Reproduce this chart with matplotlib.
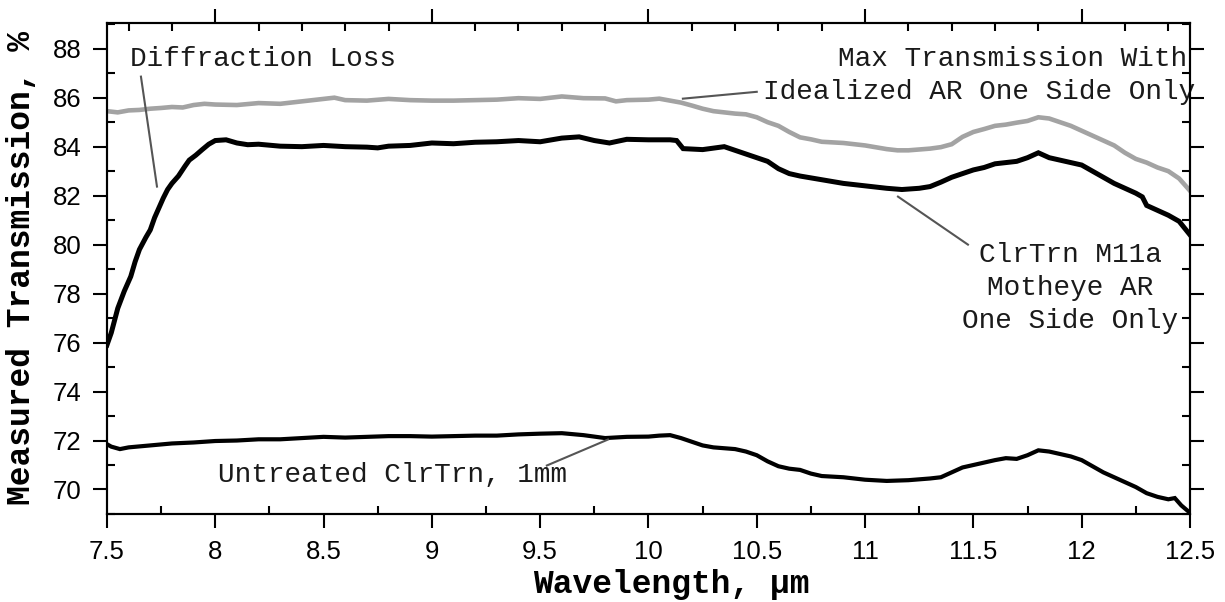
import numpy as np
import matplotlib
matplotlib.use('Agg')
import matplotlib.pyplot as plt
from matplotlib.ticker import MultipleLocator

# max transmission, idealized AR on one side (grey)
wl_max = [7.50, 7.55, 7.60, 7.65, 7.70, 7.75, 7.80, 7.85, 7.90, 7.95, 8.00, 8.10, 8.20, 8.30,
          8.40, 8.50, 8.55, 8.60, 8.70, 8.80, 8.90, 9.00, 9.10, 9.20, 9.30, 9.40, 9.50, 9.60,
          9.70, 9.80, 9.85, 9.90, 10.00, 10.05, 10.10, 10.15, 10.20, 10.25, 10.30, 10.40, 10.45,
          10.50, 10.55, 10.60, 10.65, 10.70, 10.75, 10.80, 10.90, 11.00, 11.10, 11.15, 11.20,
          11.30, 11.35, 11.40, 11.45, 11.50, 11.55, 11.60, 11.65, 11.70, 11.75, 11.80, 11.85,
          11.90, 11.95, 12.00, 12.05, 12.10, 12.15, 12.20, 12.25, 12.30, 12.35, 12.40, 12.45, 12.50]
t_max = [85.45, 85.40, 85.48, 85.50, 85.55, 85.58, 85.62, 85.60, 85.70, 85.75, 85.72, 85.70, 85.78, 85.75,
         85.85, 85.95, 86.00, 85.90, 85.88, 85.95, 85.90, 85.88, 85.88, 85.90, 85.92, 85.98, 85.95, 86.05,
         85.98, 85.97, 85.85, 85.90, 85.92, 85.96, 85.88, 85.80, 85.68, 85.55, 85.45, 85.35, 85.32,
         85.20, 85.00, 84.85, 84.60, 84.38, 84.30, 84.20, 84.15, 84.05, 83.90, 83.85, 83.85,
         83.92, 83.98, 84.10, 84.40, 84.60, 84.72, 84.85, 84.90, 84.98, 85.05, 85.20, 85.15,
         85.00, 84.85, 84.65, 84.45, 84.25, 84.05, 83.75, 83.50, 83.35, 83.15, 83.00, 82.70, 82.20]

# ClrTrn M11a, motheye AR on one side
wl_m11a = [7.50, 7.52, 7.55, 7.58, 7.61, 7.63, 7.65, 7.68, 7.70, 7.72, 7.74, 7.76, 7.78, 7.80,
           7.83, 7.86, 7.88, 7.91, 7.94, 7.97, 8.00, 8.05, 8.10, 8.15, 8.20, 8.30, 8.40, 8.50,
           8.60, 8.70, 8.75, 8.80, 8.90, 9.00, 9.10, 9.20, 9.30, 9.40, 9.50, 9.60, 9.68, 9.75,
           9.82, 9.90, 10.00, 10.10, 10.13, 10.16, 10.25, 10.35, 10.40, 10.45, 10.50, 10.55,
           10.60, 10.65, 10.70, 10.80, 10.90, 11.00, 11.10, 11.17, 11.25, 11.30, 11.35, 11.40,
           11.45, 11.50, 11.55, 11.60, 11.65, 11.70, 11.75, 11.80, 11.85, 11.90, 11.95, 12.00,
           12.05, 12.10, 12.15, 12.20, 12.25, 12.28, 12.30, 12.35, 12.40, 12.45, 12.50]
t_m11a = [75.90, 76.40, 77.40, 78.10, 78.70, 79.30, 79.80, 80.30, 80.60, 81.10, 81.50, 81.90, 82.25, 82.50,
          82.80, 83.20, 83.45, 83.65, 83.88, 84.10, 84.25, 84.28, 84.15, 84.08, 84.10, 84.02, 84.00, 84.05,
          84.00, 83.98, 83.95, 84.02, 84.05, 84.15, 84.12, 84.18, 84.20, 84.25, 84.20, 84.35, 84.40, 84.25,
          84.15, 84.30, 84.28, 84.28, 84.25, 83.92, 83.88, 84.00, 83.85, 83.70, 83.55, 83.40,
          83.10, 82.90, 82.80, 82.65, 82.50, 82.40, 82.30, 82.25, 82.30, 82.37, 82.55, 82.75,
          82.90, 83.05, 83.15, 83.30, 83.35, 83.40, 83.55, 83.75, 83.55, 83.45, 83.35, 83.25,
          83.00, 82.75, 82.50, 82.30, 82.10, 81.95, 81.60, 81.40, 81.20, 80.95, 80.40]

# untreated ClrTrn, 1 mm
wl_raw = [7.50, 7.52, 7.56, 7.60, 7.70, 7.80, 7.90, 8.00, 8.10, 8.20, 8.30, 8.40, 8.50, 8.60,
          8.70, 8.80, 8.90, 9.00, 9.10, 9.20, 9.30, 9.40, 9.50, 9.60, 9.70, 9.80, 9.90, 10.00,
          10.05, 10.10, 10.15, 10.20, 10.25, 10.30, 10.40, 10.45, 10.50, 10.55, 10.60, 10.65,
          10.70, 10.75, 10.80, 10.90, 11.00, 11.10, 11.20, 11.30, 11.35, 11.40, 11.45, 11.50,
          11.55, 11.60, 11.65, 11.70, 11.75, 11.80, 11.85, 11.90, 11.95, 12.00, 12.05, 12.10,
          12.15, 12.20, 12.25, 12.30, 12.35, 12.40, 12.43, 12.46, 12.50]
t_raw = [71.85, 71.75, 71.65, 71.72, 71.80, 71.88, 71.92, 71.98, 72.00, 72.05, 72.05, 72.10, 72.15, 72.12,
         72.15, 72.18, 72.18, 72.16, 72.18, 72.20, 72.20, 72.25, 72.28, 72.30, 72.22, 72.10, 72.15, 72.16,
         72.20, 72.22, 72.10, 71.95, 71.80, 71.72, 71.65, 71.55, 71.40, 71.15, 70.95, 70.85,
         70.80, 70.65, 70.55, 70.50, 70.40, 70.35, 70.38, 70.45, 70.50, 70.70, 70.90, 71.00,
         71.10, 71.20, 71.28, 71.25, 71.40, 71.60, 71.55, 71.45, 71.35, 71.20, 70.95, 70.70,
         70.50, 70.30, 70.10, 69.85, 69.70, 69.60, 69.65, 69.35, 69.05]

x_ticks = [7.5, 8, 8.5, 9, 9.5, 10, 10.5, 11, 11.5, 12, 12.5]
x_ticklabels = ['7.5', '8', '8.5', '9', '9.5', '10', '10.5', '11', '11.5', '12', '12.5']
y_ticks = [70, 72, 74, 76, 78, 80, 82, 84, 86, 88]

mono = 'Liberation Mono'
sans = 'Liberation Sans'
txt_col = '#1a1a1a'
lead_col = '#555555'

fig = plt.figure(figsize=(12.25, 6.02), dpi=100)
ax = fig.add_axes([0.0873, 0.1462, 0.9714 - 0.0873, 0.9618 - 0.1462])

ax.plot(wl_max, t_max, color='#a3a3a3', lw=3.3, solid_joinstyle='miter')
ax.plot(wl_m11a, t_m11a, color='black', lw=3.6, solid_joinstyle='miter')
ax.plot(wl_raw, t_raw, color='black', lw=3.0, solid_joinstyle='miter')

ax.set_xlim(7.5, 12.5)
ax.set_ylim(69.0, 89.05)

ax.set_xticks(x_ticks)
ax.set_xticklabels(x_ticklabels, fontfamily=sans, fontsize=18.5)
ax.set_yticks(y_ticks)
ax.set_yticklabels([str(v) for v in y_ticks], fontfamily=sans, fontsize=18.5)
ax.xaxis.set_minor_locator(MultipleLocator(0.25))
ax.yaxis.set_minor_locator(MultipleLocator(1))
ax.tick_params(which='major', direction='out', length=10, width=1.5, pad=8.5,
               right=True, labelright=False)
ax.tick_params(which='minor', direction='in', length=6, width=1.5, right=True)

# top axis carries its own tick spacing
top = ax.twiny()
top.set_xlim(7.5, 12.5)
top.xaxis.set_major_locator(MultipleLocator(1))
top.xaxis.set_minor_locator(MultipleLocator(0.2))
top.tick_params(which='major', direction='out', length=10, width=1.5, labeltop=False)
top.tick_params(which='minor', direction='in', length=6, width=1.5)

for a in (ax, top):
    for s in a.spines.values():
        s.set_linewidth(1.5)

ax.set_xlabel('Wavelength, \u00b5m', fontfamily=mono, fontweight='bold', fontsize=23.7, va='center')
ax.xaxis.set_label_coords(0.521, -0.1446)
ax.set_ylabel('Measured Transmission, %', fontfamily=mono, fontweight='bold', fontsize=23.7, va='center')
ax.yaxis.set_label_coords(-0.0785, 0.5)

# labels and leader lines
tk = dict(fontfamily=mono, fontsize=20, color=txt_col, va='baseline')
ax.text(7.606, 87.31, 'Diffraction Loss', ha='left', **tk)
ax.plot([7.657, 7.731], [86.86, 82.37], color=lead_col, lw=1.5)

ax.text(10.875, 87.31, 'Max Transmission With', ha='left', clip_on=False, **tk)
ax.text(10.529, 85.96, 'Idealized AR One Side Only', ha='left', clip_on=False, **tk)
ax.plot([10.159, 10.50], [85.96, 86.24], color=lead_col, lw=1.5)

ax.text(11.946, 79.31, 'ClrTrn M11a', ha='center', **tk)
ax.text(11.946, 77.96, 'Motheye AR', ha='center', **tk)
ax.text(11.946, 76.61, 'One Side Only', ha='center', **tk)
ax.plot([11.152, 11.475], [81.96, 80.0], color=lead_col, lw=1.5)

ax.text(8.012, 70.3, 'Untreated ClrTrn, 1mm', ha='left', **tk)
ax.plot([9.813, 9.531], [72.04, 70.98], color=lead_col, lw=1.5)

fig.savefig('out.png', dpi=100)
